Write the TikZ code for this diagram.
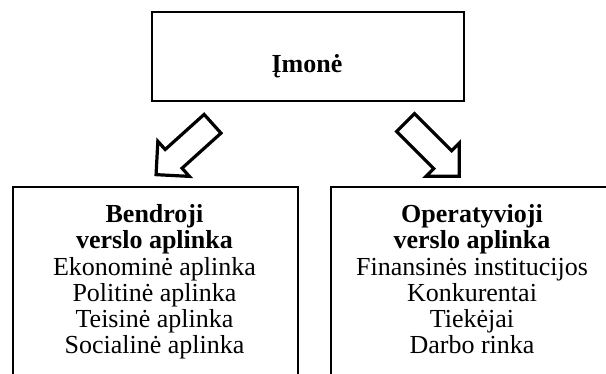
\documentclass[tikz,border=0pt]{standalone}
\usepackage{fontspec}
\setmainfont{Liberation Serif}
\usetikzlibrary{calc, shapes, arrows}

\begin{document}
\begin{tikzpicture}[x=0.5pt,y=-0.5pt]
\tikzstyle{frame}=[draw,line width=1pt,rectangle,inner sep=0pt]
\tikzstyle{bigarrow}=[draw,line width=1.6pt,single arrow,single arrow head extend=5.5pt,minimum height=38pt,minimum width=22pt,inner xsep=0pt,inner ysep=5.5pt]
\tikzstyle{env}=[align=center,anchor=north,inner sep=0pt,font=\fontsize{13}{13.15}\selectfont]
\useasboundingbox (0,0) rectangle (606,374);
\node[frame,minimum width=156pt,minimum height=44.5pt] (imone) at (308,56.5) {};
\node[inner sep=0pt,font=\fontsize{13}{13.15}\selectfont\bfseries] (imone_t) at (307,66) {Įmonė};
\node[bigarrow,rotate=222] (arr_l) at (189,145) {};
\node[bigarrow,rotate=-45] (arr_r) at (428,145) {};
\node[frame,minimum width=142.5pt,minimum height=105pt,anchor=north west] (bendr) at (12,185.7) {};
\node[frame,minimum width=142.5pt,minimum height=105pt,anchor=north west] (oper) at (330,185.7) {};
\node[env] (bendr_t) at (154.5,204) {\textbf{Bendroji}\\\textbf{verslo aplinka}\\Ekonominė aplinka\\Politinė aplinka\\Teisinė aplinka\\Socialinė aplinka};
\node[env] (oper_t) at (472,204) {\textbf{Operatyvioji}\\\textbf{verslo aplinka}\\Finansinės institucijos\\Konkurentai\\Tiekėjai\\Darbo rinka};
\end{tikzpicture}
\end{document}
